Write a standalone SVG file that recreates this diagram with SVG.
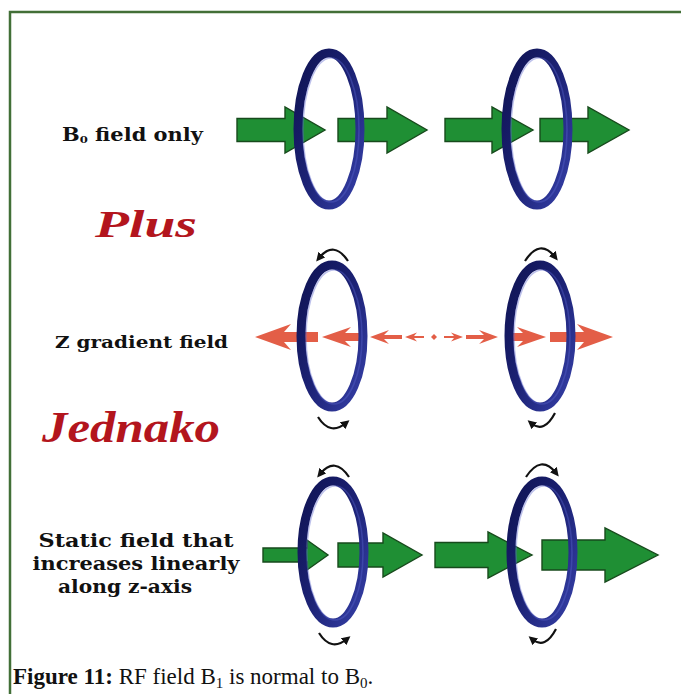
<svg xmlns="http://www.w3.org/2000/svg" width="681" height="694" viewBox="0 0 681 694">
  <style>
    .lbl { font-family: "DejaVu Serif", "Liberation Serif", serif; font-weight: bold; fill: #111; }
    .script { font-family: "Liberation Serif", serif; font-weight: bold; font-style: italic; fill: #b3151d; }
    .cap { font-family: "Liberation Serif", serif; font-size: 23px; fill: #111; }
    .green { fill: #1f8f34; stroke: #174a1c; stroke-width: 1.4; stroke-linejoin: miter; }
    .red { fill: #e35e47; }
    .ring { fill: none; stroke: url(#ringGrad); stroke-width: 9; }
    .ringHi { fill: none; stroke: #5a64cc; stroke-width: 1.6; opacity: 0.4; }
    .spin { fill: none; stroke: #111; stroke-width: 2.2; marker-end: url(#tip); }
  </style>
  <defs>
    <linearGradient id="ringGrad" x1="0" y1="0" x2="1" y2="1">
      <stop offset="0" stop-color="#0f1352"/>
      <stop offset="0.5" stop-color="#1c2275"/>
      <stop offset="1" stop-color="#3640a8"/>
    </linearGradient>
    <marker id="tip" viewBox="0 0 10 10" refX="5" refY="5" markerWidth="4" markerHeight="4" orient="auto" markerUnits="strokeWidth">
      <path d="M0,0 L10,5 L0,10 Z" fill="#111"/>
    </marker>
    <g id="redHalf">
      <path d="M255,337 L291,324 L284,332 H318 V342 H284 L291,350 Z"/>
      <path d="M322,337 L351,327 L345,333 H362 V341 H345 L351,347 Z"/>
      <path d="M370,337 L389,330 L384,335 H402 V339 H384 L389,344 Z"/>
      <path d="M405,337 L417,332.5 L414,336 H424 V338 H414 L417,341.5 Z"/>
    </g>
  </defs>

  <rect width="681" height="694" fill="#fff"/>
  <path d="M10,694 V12 H681" fill="none" stroke="#426f37" stroke-width="2.5"/>

  <!-- row labels -->
  <g id="label-b0">
    <text class="lbl" x="62" y="141" font-size="18" textLength="141" lengthAdjust="spacingAndGlyphs">B<tspan font-size="10" dy="2">0</tspan><tspan dy="-2"> field only</tspan></text>
  </g>
  <g id="label-plus">
    <text class="script" x="95" y="237" font-size="38" textLength="102" lengthAdjust="spacingAndGlyphs">Plus</text>
  </g>
  <g id="label-z">
    <text class="lbl" x="55" y="348" font-size="17" textLength="173" lengthAdjust="spacingAndGlyphs">Z gradient field</text>
  </g>
  <g id="label-jednako">
    <text class="script" x="42" y="442" font-size="44" textLength="178" lengthAdjust="spacingAndGlyphs">Jednako</text>
  </g>
  <g id="label-static">
    <text class="lbl" x="136" y="547" font-size="18" text-anchor="middle" textLength="195" lengthAdjust="spacingAndGlyphs">Static field that</text>
    <text class="lbl" x="136" y="570" font-size="18" text-anchor="middle" textLength="207" lengthAdjust="spacingAndGlyphs">increases linearly</text>
    <text class="lbl" x="125" y="593" font-size="18" text-anchor="middle" textLength="134" lengthAdjust="spacingAndGlyphs">along z-axis</text>
  </g>

  <!-- row 1: uniform B0 arrows -->
  <g id="b0-arrows">
    <path class="green" d="M237,118.5 H285 V107 L325,130 L285,153 V141.5 H237 Z"/>
    <path class="green" d="M338,118.5 H387 V107 L427,130 L387,153 V141.5 H338 Z"/>
    <path class="green" d="M445,118.5 H492 V107 L533,130 L492,153 V141.5 H445 Z"/>
    <path class="green" d="M540,118.5 H588 V107 L629,130 L588,153 V141.5 H540 Z"/>
  </g>

  <!-- row 2: gradient field arrows -->
  <g id="gradient-arrows" class="red">
    <use href="#redHalf"/>
    <use href="#redHalf" transform="translate(868,0) scale(-1,1)"/>
    <path d="M434,334 L437,337 L434,340 L431,337 Z"/>
  </g>

  <!-- row 3: increasing static field arrows -->
  <g id="static-arrows">
    <path class="green" d="M263,548 H307 V540 L328,555 L307,570 V562 H263 Z"/>
    <path class="green" d="M338,543 H383 V533 L422,555 L383,577 V567 H338 Z"/>
    <path class="green" d="M435,542.5 H488 V532 L532,555 L488,578 V567.5 H435 Z"/>
    <path class="green" d="M542,540 H605 V528 L658,555 L605,582 V570 H542 Z"/>
  </g>

  <!-- coils -->
  <g id="coil-1a"><ellipse class="ring" cx="329" cy="129" rx="31" ry="76"/><ellipse class="ringHi" cx="331" cy="130" rx="28" ry="72"/></g>
  <g id="coil-1b"><ellipse class="ring" cx="537" cy="129" rx="31" ry="76"/><ellipse class="ringHi" cx="539" cy="130" rx="28" ry="72"/></g>
  <g id="coil-2a"><ellipse class="ring" cx="332" cy="336" rx="31" ry="71"/><ellipse class="ringHi" cx="334" cy="337" rx="28" ry="67"/></g>
  <g id="coil-2b"><ellipse class="ring" cx="540" cy="336" rx="31" ry="71"/><ellipse class="ringHi" cx="542" cy="337" rx="28" ry="67"/></g>
  <g id="coil-3a"><ellipse class="ring" cx="333" cy="552" rx="31" ry="71"/><ellipse class="ringHi" cx="335" cy="553" rx="28" ry="67"/></g>
  <g id="coil-3b"><ellipse class="ring" cx="542" cy="552" rx="31" ry="71"/><ellipse class="ringHi" cx="544" cy="553" rx="28" ry="67"/></g>

  <!-- rotation arrows around the coils -->
  <g id="connectors">
    <g id="spin-row2">
      <path class="spin" d="M348,261 Q334,240 319,258"/>
      <path class="spin" d="M318,417 Q330,436 346,423"/>
      <path class="spin" d="M525,261 Q540,238 555,257"/>
      <path class="spin" d="M555,413 Q544,434 531,423"/>
    </g>
    <g id="spin-row3" transform="translate(1,216)">
      <path class="spin" d="M348,261 Q334,240 319,258"/>
      <path class="spin" d="M318,417 Q330,436 346,423"/>
      <path class="spin" d="M525,261 Q540,238 555,257"/>
      <path class="spin" d="M555,413 Q544,434 531,423"/>
    </g>
  </g>

  <!-- caption -->
  <text class="cap" x="13" y="684"><tspan font-weight="bold">Figure 11:</tspan> RF field B<tspan font-size="15" dy="4">1</tspan><tspan dy="-4"> is normal to B</tspan><tspan font-size="15" dy="4">0</tspan><tspan dy="-4">.</tspan></text>
</svg>
